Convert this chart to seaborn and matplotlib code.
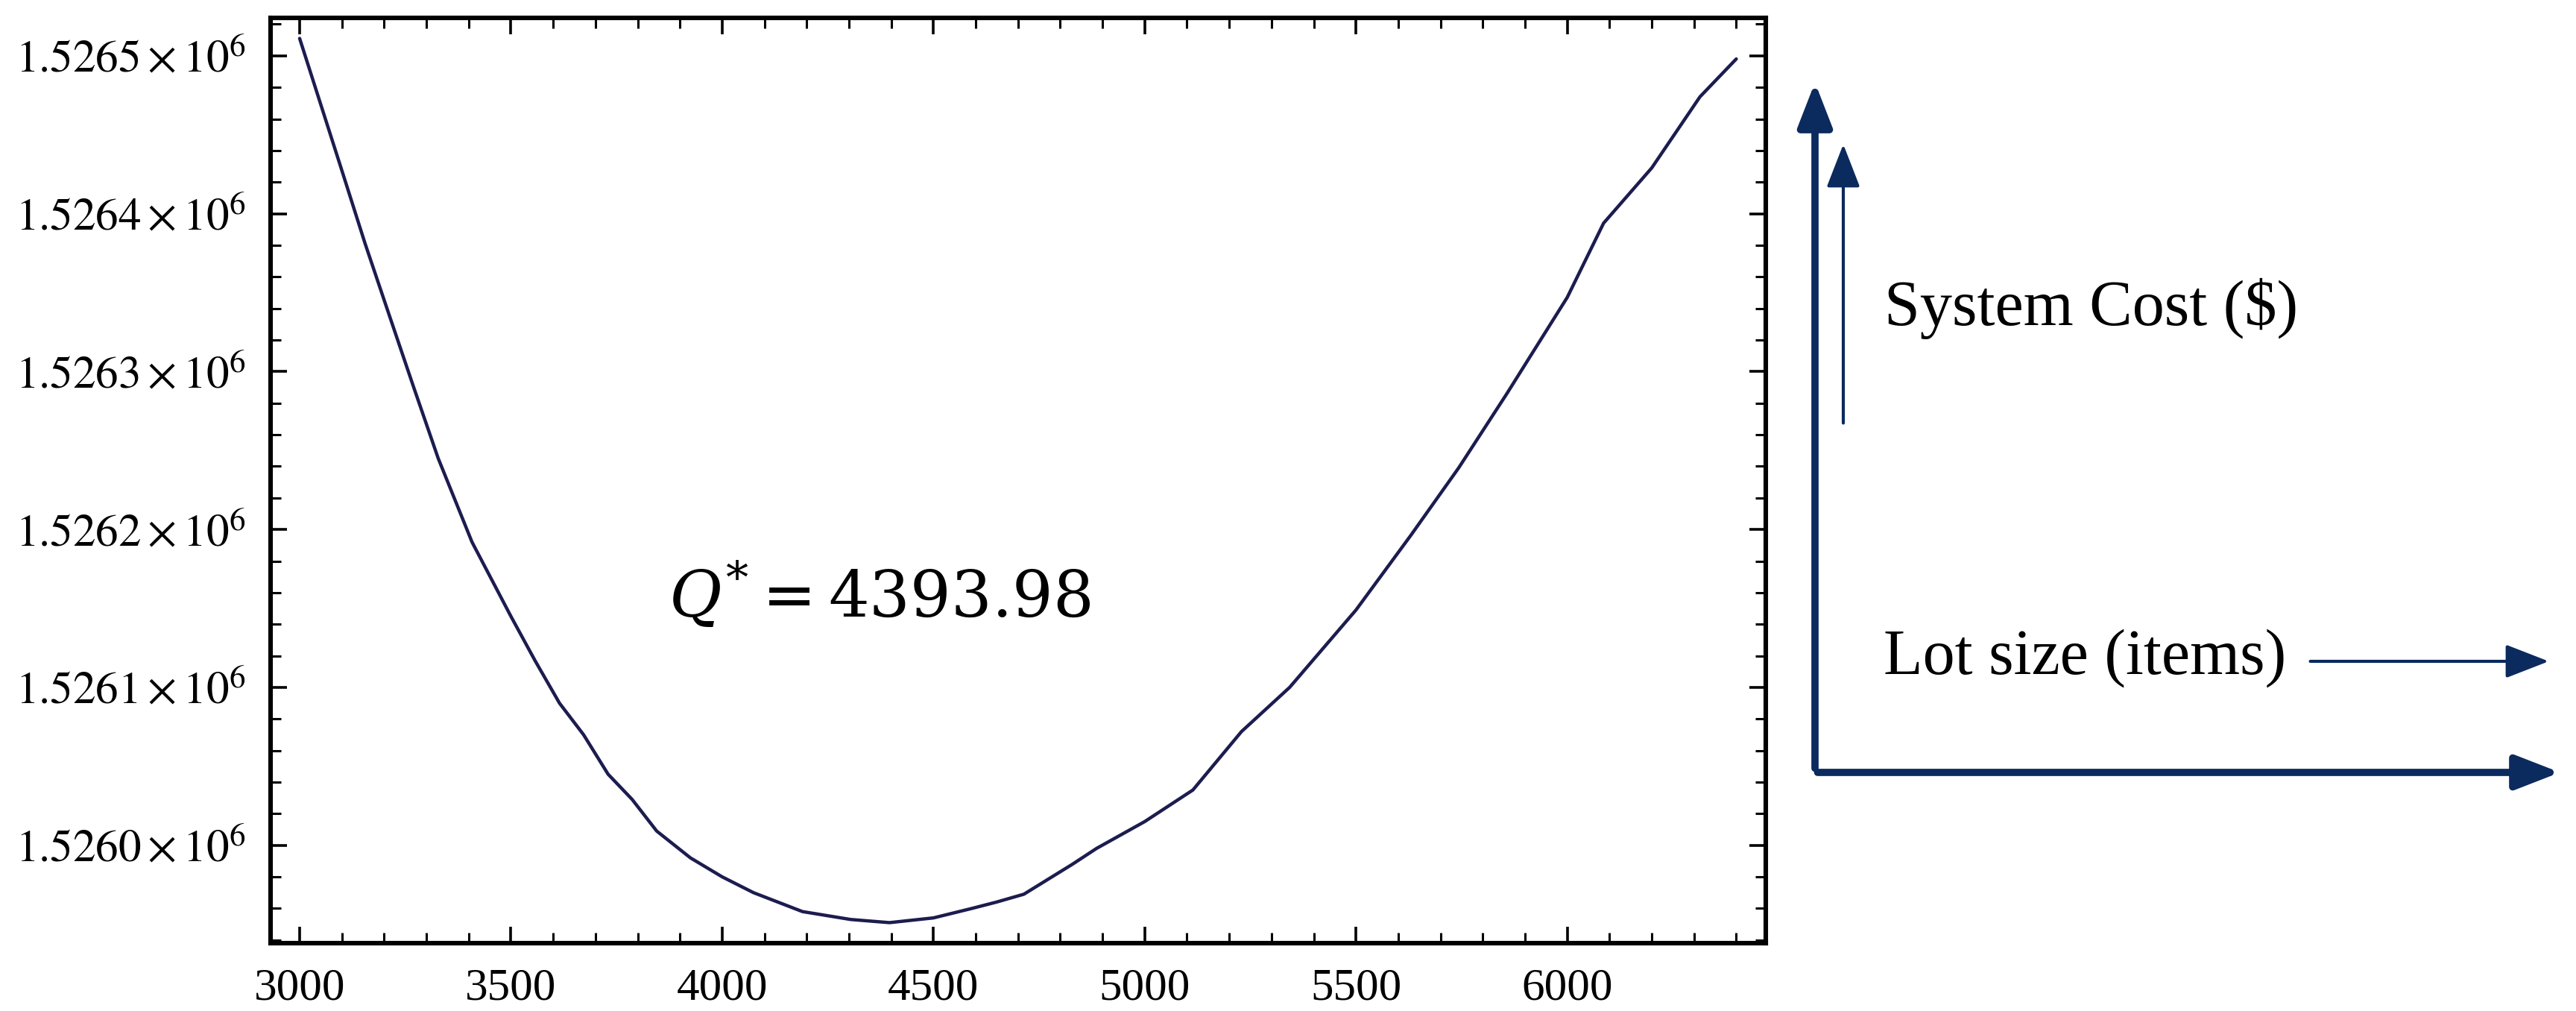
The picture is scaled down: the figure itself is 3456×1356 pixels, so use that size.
import numpy as np
import pandas as pd
import matplotlib
matplotlib.use("Agg")
import matplotlib.pyplot as plt
import seaborn as sns
from matplotlib.ticker import MultipleLocator, FixedLocator, FuncFormatter

# Data (lot size vs system cost)
lot_size = [3000, 3098, 3155, 3213, 3270, 3328, 3408, 3500, 3557, 3615, 3672,
            3730, 3787, 3845, 3925, 4000, 4074, 4190, 4304, 4396, 4500, 4591,
            4649, 4714, 4829, 4886, 5000, 5114, 5229, 5343, 5500, 5629, 5743,
            5857, 6000, 6086, 6200, 6314, 6400]
system_cost = [1526511, 1526429, 1526381, 1526335, 1526290, 1526245, 1526192,
               1526145, 1526117, 1526090, 1526070, 1526045, 1526029, 1526009,
               1525992, 1525980, 1525970, 1525958, 1525953, 1525951, 1525954,
               1525960, 1525964, 1525969, 1525988, 1525998, 1526015, 1526035,
               1526072, 1526100, 1526149, 1526196, 1526239, 1526286, 1526347,
               1526394, 1526429, 1526474, 1526498]
y_ticks = [1526000, 1526100, 1526200, 1526300, 1526400, 1526500]
x_ticks = [3000, 3500, 4000, 4500, 5000, 5500, 6000]
annotation = r"$Q^{*} = 4393.98$"
y_label = "System Cost ($)"
x_label = "Lot size (items)"

sns.set_style("white")
plt.rcParams["mathtext.fontset"] = "stix"
plt.rcParams["font.family"] = ["Liberation Serif", "DejaVu Serif"]
plt.rcParams["text.color"] = "black"
plt.rcParams["xtick.color"] = "black"
plt.rcParams["ytick.color"] = "black"

df = pd.DataFrame({"Q": lot_size, "cost": system_cost})

fig = plt.figure(figsize=(17.28, 6.78), dpi=200)
ax = fig.add_axes([0.105, 0.0671, 0.5805, 0.9152])
sns.lineplot(data=df, x="Q", y="cost", ax=ax, color="#1c1c4f", linewidth=1.6)
ax.set_xlim(2931, 6470)
ax.set_ylim(1525938, 1526524)
ax.set_xlabel("")
ax.set_ylabel("")
ax.xaxis.set_major_locator(FixedLocator(x_ticks))
ax.xaxis.set_minor_locator(MultipleLocator(100))
ax.yaxis.set_major_locator(FixedLocator(y_ticks))
ax.yaxis.set_minor_locator(MultipleLocator(20))
ax.yaxis.set_major_formatter(FuncFormatter(lambda v, p: r"$%.4f\times10^{6}$" % (v / 1e6)))
ax.xaxis.set_major_formatter(FuncFormatter(lambda v, p: "%d" % v))
ax.tick_params(which="both", direction="in", top=True, right=True, bottom=True, left=True,
               color="black", labelcolor="black", labelsize=22)
ax.tick_params(which="major", length=8, width=1.3, pad=12)
ax.tick_params(which="minor", length=5, width=1.1)
for s in ax.spines.values():
    s.set_linewidth(2.2)
    s.set_color("black")
ax.text(0.266, 0.375, annotation, transform=ax.transAxes, fontsize=31, color="black",
        va="center", ha="left", math_fontfamily="dejavuserif")

# Right-side schematic axes
navy = "#0b2a5e"
def fx(px): return px / 3456
def fy(py): return 1 - py / 1356
arr = dict(arrowstyle="-|>,head_length=0.9,head_width=0.35", color=navy, lw=3.5)
fig.add_artist(matplotlib.patches.FancyArrowPatch((fx(2435), fy(1036)), (fx(2435), fy(105)),
               transform=fig.transFigure, mutation_scale=20, **arr))
fig.add_artist(matplotlib.patches.FancyArrowPatch((fx(2433), fy(1036)), (fx(3440), fy(1036)),
               transform=fig.transFigure, mutation_scale=20, **arr))
arr2 = dict(arrowstyle="-|>,head_length=0.9,head_width=0.35", color=navy, lw=1.5)
fig.add_artist(matplotlib.patches.FancyArrowPatch((fx(2473), fy(573)), (fx(2473), fy(188)),
               transform=fig.transFigure, mutation_scale=20, **arr2))
fig.add_artist(matplotlib.patches.FancyArrowPatch((fx(3094), fy(887)), (fx(3425), fy(887)),
               transform=fig.transFigure, mutation_scale=20, **arr2))
fig.text(fx(2528), fy(414), y_label, fontsize=31, va="center", ha="left",
         color="black", family=["Liberation Serif", "DejaVu Serif"])
fig.text(fx(2527), fy(883), x_label, fontsize=31, va="center", ha="left",
         color="black", family=["Liberation Serif", "DejaVu Serif"])

fig.savefig("out.png", dpi=200, facecolor="white")
